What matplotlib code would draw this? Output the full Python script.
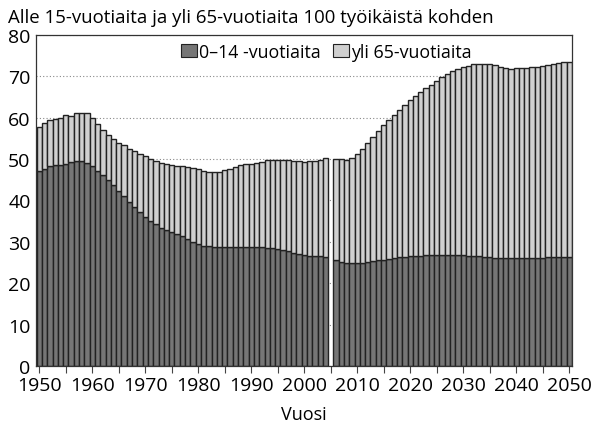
import numpy as np
import matplotlib
matplotlib.use("Agg")
import matplotlib.pyplot as plt
from matplotlib.patches import Patch

plt.rcParams['font.family'] = ['Open Sans', 'DejaVu Sans']

# vuodet 1950-2004 (tilasto) ja 2006-2050 (ennuste); 2005 jätetään tyhjäksi
years_hist = list(range(1950, 2005))
years_proj = list(range(2006, 2051))

# 0-14 -vuotiaat 100 työikäistä kohden
young_hist = [47.2, 47.7, 48.3, 48.5, 48.6, 48.9, 49.3, 49.5, 49.5, 49.1,
              48.3, 47.2, 46.2, 45.0, 43.7, 42.4, 41.0, 39.6, 38.4, 37.2,
              36.1, 35.1, 34.2, 33.4, 32.8, 32.3, 31.8, 31.3, 30.6, 30.0,
              29.5, 29.1, 28.9, 28.7, 28.7, 28.8, 28.8, 28.8, 28.8, 28.8,
              28.8, 28.8, 28.7, 28.6, 28.5, 28.3, 28.0, 27.7, 27.4, 27.1,
              26.9, 26.7, 26.6, 26.5, 26.4]
young_proj = [25.5, 25.1, 24.9, 24.9, 24.9, 25.0, 25.1, 25.3, 25.5, 25.7,
              25.9, 26.1, 26.3, 26.4, 26.5, 26.6, 26.7, 26.8, 26.8, 26.9,
              26.9, 26.9, 26.9, 26.9, 26.8, 26.7, 26.6, 26.5, 26.4, 26.3,
              26.2, 26.1, 26.1, 26.1, 26.1, 26.1, 26.1, 26.2, 26.2, 26.2,
              26.3, 26.3, 26.3, 26.4, 26.4]

# yhteensä (0-14 + yli 65) 100 työikäistä kohden
total_hist = [57.8, 58.7, 59.4, 59.6, 59.9, 60.7, 60.3, 61.2, 61.2, 61.2,
              59.9, 58.4, 57.0, 55.9, 54.8, 54.0, 53.3, 52.5, 51.9, 51.3,
              50.7, 50.1, 49.5, 49.0, 48.7, 48.5, 48.4, 48.3, 48.2, 47.9,
              47.6, 47.2, 47.0, 46.8, 46.9, 47.3, 47.7, 48.1, 48.5, 48.8,
              48.9, 49.0, 49.3, 49.7, 49.9, 49.9, 49.8, 49.7, 49.5, 49.5,
              49.4, 49.5, 49.5, 49.7, 50.3]
total_proj = [50.1, 50.0, 49.9, 50.3, 51.3, 52.5, 54.0, 55.4, 56.9, 58.2,
              59.5, 60.6, 61.9, 63.0, 64.2, 65.3, 66.3, 67.2, 68.0, 68.8,
              69.8, 70.5, 71.2, 71.8, 72.2, 72.6, 72.9, 73.0, 73.0, 72.9,
              72.7, 72.3, 72.0, 71.9, 72.0, 72.1, 72.1, 72.2, 72.2, 72.4,
              72.7, 73.0, 73.2, 73.4, 73.5]

years = np.array(years_hist + years_proj)
young = np.array(young_hist + young_proj)
old = np.array(total_hist + total_proj) - young

dark = '#767676'
light = '#d0d0d0'
edge = '#222222'

fig = plt.figure(figsize=(5.92, 4.31), dpi=100)
ax = fig.add_axes([0.061, 0.1485, 0.905, 0.768])

ax.bar(years, young, width=1.0, color=dark, edgecolor=edge, linewidth=1.0, zorder=2)
ax.bar(years, old, bottom=young, width=1.0, color=light, edgecolor=edge, linewidth=1.0, zorder=2)

ax.set_xlim(1949.4, 2050.5)
ax.set_ylim(0, 80)
ax.set_yticks(range(0, 81, 10))
ax.set_xticks(range(1950, 2051, 10))
ax.set_xticks(range(1955, 2050, 10), minor=True)
ax.yaxis.grid(True, linestyle=(0, (1, 2)), color='#888888', linewidth=0.8, zorder=0)
ax.set_axisbelow(True)

ax.tick_params(axis='y', length=0, labelsize=14, pad=4)
ax.tick_params(axis='x', which='both', length=5, direction='out', labelsize=14, width=0.8,
               color='#444444', pad=2)
for s in ax.spines.values():
    s.set_linewidth(0.9)
    s.set_color('#333333')

ax.set_xlabel('Vuosi', fontsize=13, labelpad=8)
fig.text(0.014, 0.958, 'Alle 15-vuotiaita ja yli 65-vuotiaita 100 työikäistä kohden',
         fontsize=13.4, ha='left', va='center')

handles = [Patch(facecolor=dark, edgecolor=edge, linewidth=0.8),
           Patch(facecolor=light, edgecolor=edge, linewidth=0.8)]
ax.legend(handles, ['0–14 -vuotiaita', 'yli 65-vuotiaita'], loc='upper center',
          bbox_to_anchor=(0.541, 1.025), ncol=2, frameon=False, fontsize=12.8,
          handlelength=0.9, handleheight=0.75, handletextpad=0.1, columnspacing=0.7)

fig.savefig('out.png', dpi=100)
